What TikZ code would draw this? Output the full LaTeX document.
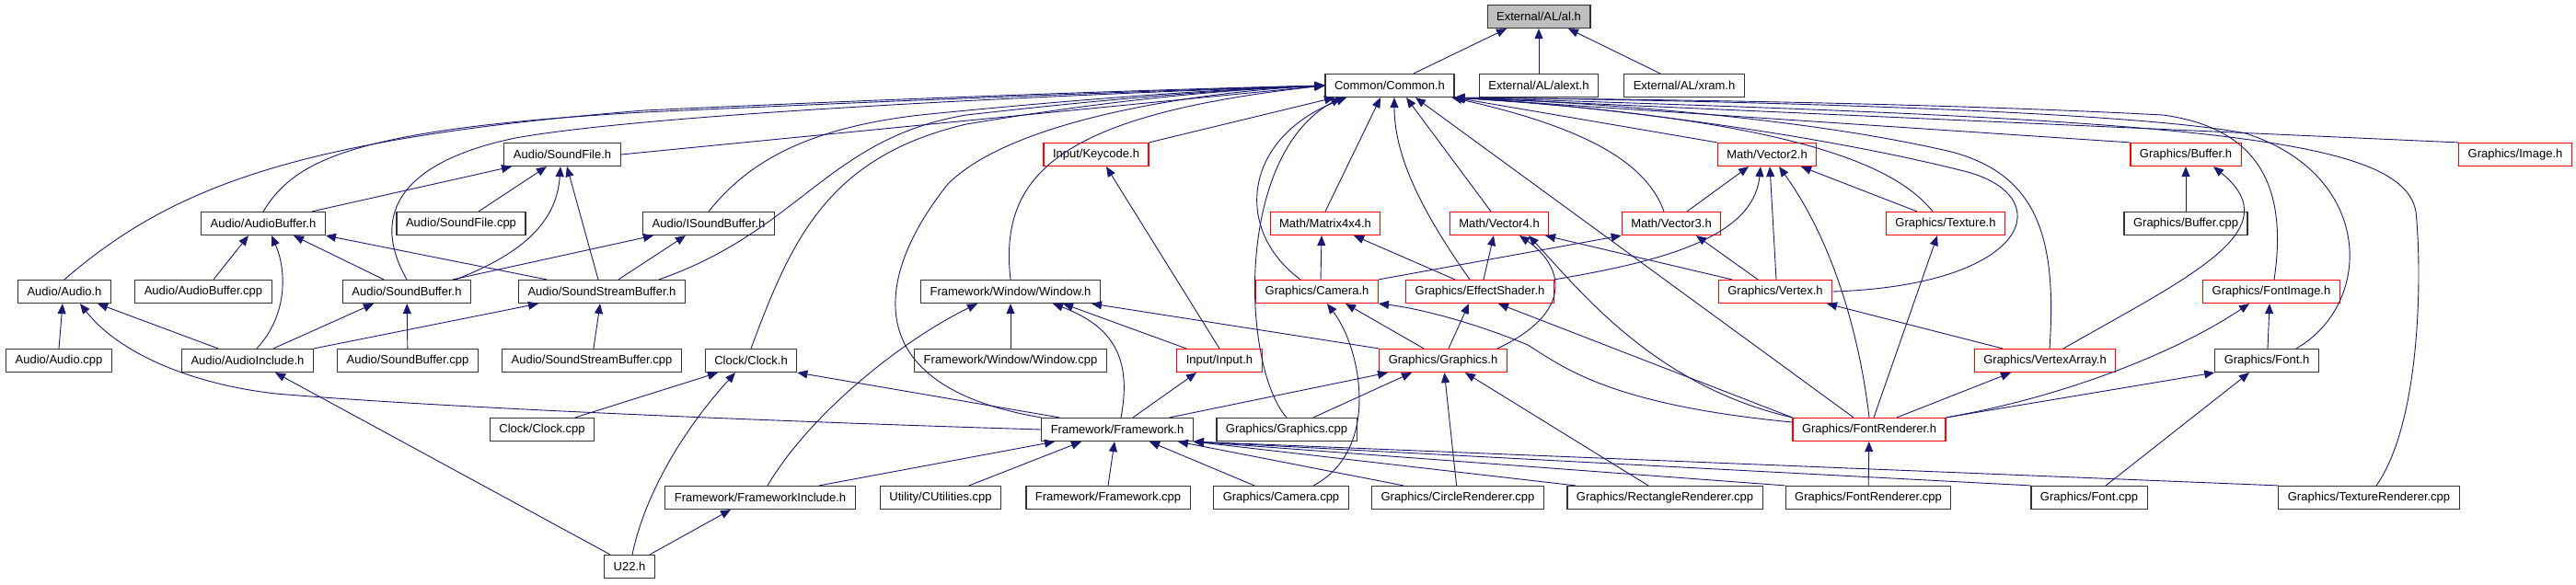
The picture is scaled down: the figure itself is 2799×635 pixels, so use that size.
\documentclass[tikz,border=0pt]{standalone}
\usepackage{fontspec}
\setmainfont{Liberation Sans}
\usepackage{tikz}
\usetikzlibrary{arrows.meta}
\usepackage{xcolor}
\definecolor{edgeblue}{HTML}{191970}
\definecolor{rootgray}{HTML}{BFBFBF}

\begin{document}
\begin{tikzpicture}[
  x=1pt, y=1pt,
  >={Triangle[length=11pt,width=9pt]},
  every node/.style={font=\fontsize{13}{15}\selectfont},
  filebox/.style={draw=black!80, line width=1.2pt, fill=white, minimum height=25pt, inner xsep=10pt, inner ysep=2pt},
  truncbox/.style={filebox, draw=red},
  rootbox/.style={filebox, fill=rootgray},
  inc/.style={->, draw=edgeblue, line width=0.9pt}
]

% Parameters (rows, from the top)
\def\yA{-18}
\def\yB{-93}
\def\yC{-168}
\def\yD{-243}
\def\yE{-317}
\def\yF{-392}
\def\yG{-467}
\def\yH{-541}
\def\yI{-616}

% --- Page ---
\fill[white] (0,0) rectangle (2799,-635);
\useasboundingbox (0,0) rectangle (2799,-635);

% --- Files ---
\node[rootbox]  (al)          at (1672,\yA) {External/AL/al.h};

\node[filebox]  (common)      at (1510,\yB) {Common/Common.h};
\node[filebox]  (alext)       at (1672,\yB) {External/AL/alext.h};
\node[filebox]  (xram)        at (1830,\yB) {External/AL/xram.h};

\node[filebox]  (soundfile)   at (611,\yC)  {Audio/SoundFile.h};
\node[truncbox] (keycode)     at (1191,\yC) {Input/Keycode.h};
\node[truncbox] (vectwo)      at (1920,\yC) {Math/Vector2.h};
\node[truncbox] (bufferh)     at (2375,\yC) {Graphics/Buffer.h};
\node[truncbox] (image)       at (2733,\yC) {Graphics/Image.h};

\node[filebox]  (audiobuf)    at (286,\yD)  {Audio/AudioBuffer.h};
\node[filebox]  (soundfilecpp) at (501,\yD) {Audio/SoundFile.cpp};
\node[filebox]  (isoundbuf)   at (770,\yD)  {Audio/ISoundBuffer.h};
\node[truncbox] (matrix)      at (1440,\yD) {Math/Matrix4x4.h};
\node[truncbox] (vecfour)     at (1629,\yD) {Math/Vector4.h};
\node[truncbox] (vecthree)    at (1816,\yD) {Math/Vector3.h};
\node[truncbox] (texture)     at (2114,\yD) {Graphics/Texture.h};
\node[filebox]  (buffercpp)   at (2375,\yD) {Graphics/Buffer.cpp};

\node[filebox]  (audio)       at (70,\yE)   {Audio/Audio.h};
\node[filebox]  (audiobufcpp) at (221,\yE)  {Audio/AudioBuffer.cpp};
\node[filebox]  (soundbuf)    at (442,\yE)  {Audio/SoundBuffer.h};
\node[filebox]  (streambuf)   at (654,\yE)  {Audio/SoundStreamBuffer.h};
\node[filebox]  (window)      at (1098,\yE) {Framework/Window/Window.h};
\node[truncbox] (camera)      at (1431,\yE) {Graphics/Camera.h};
\node[truncbox] (effect)      at (1608,\yE) {Graphics/EffectShader.h};
\node[truncbox] (vertex)      at (1929,\yE) {Graphics/Vertex.h};
\node[truncbox] (fontimage)   at (2468,\yE) {Graphics/FontImage.h};

\node[filebox]  (audiocpp)    at (64,\yF)   {Audio/Audio.cpp};
\node[filebox]  (audioinc)    at (269,\yF)  {Audio/AudioInclude.h};
\node[filebox]  (soundbufcpp) at (443,\yF)  {Audio/SoundBuffer.cpp};
\node[filebox]  (streambufcpp) at (643,\yF) {Audio/SoundStreamBuffer.cpp};
\node[filebox]  (clock)       at (816,\yF)  {Clock/Clock.h};
\node[filebox]  (windowcpp)   at (1098,\yF) {Framework/Window/Window.cpp};
\node[truncbox] (input)       at (1325,\yF) {Input/Input.h};
\node[truncbox] (graphics)    at (1568,\yF) {Graphics/Graphics.h};
\node[truncbox] (vertexarray) at (2222,\yF) {Graphics/VertexArray.h};
\node[filebox]  (font)        at (2463,\yF) {Graphics/Font.h};

\node[filebox]  (clockcpp)    at (589,\yG)  {Clock/Clock.cpp};
\node[filebox]  (framework)   at (1214,\yG) {Framework/Framework.h};
\node[filebox]  (graphicscpp) at (1398,\yG) {Graphics/Graphics.cpp};
\node[truncbox] (fontrend)    at (2031,\yG) {Graphics/FontRenderer.h};

\node[filebox]  (fwinclude)   at (826,\yH)  {Framework/FrameworkInclude.h};
\node[filebox]  (cutil)       at (1022,\yH) {Utility/CUtilities.cpp};
\node[filebox]  (frameworkcpp) at (1204,\yH) {Framework/Framework.cpp};
\node[filebox]  (cameracpp)   at (1392,\yH) {Graphics/Camera.cpp};
\node[filebox]  (circle)      at (1584,\yH) {Graphics/CircleRenderer.cpp};
\node[filebox]  (rect)        at (1809,\yH) {Graphics/RectangleRenderer.cpp};
\node[filebox]  (fontrendcpp) at (2030,\yH) {Graphics/FontRenderer.cpp};
\node[filebox]  (fontcpp)     at (2270,\yH) {Graphics/Font.cpp};
\node[filebox]  (texrend)     at (2574,\yH) {Graphics/TextureRenderer.cpp};

\node[filebox]  (utwentytwo)  at (684,\yI)  {U22.h};

% --- al.h ---
\draw[inc] ([xshift=26pt]common.north) -- ([xshift=-35pt]al.south);
\draw[inc] (alext) -- (al);
\draw[inc] ([xshift=-26pt]xram.north) -- ([xshift=32pt]al.south);

% --- Common.h, from the left ---
\draw[inc] (audio.north) .. controls (190,-200) and (330,-150) .. (700,-120) .. controls (1000,-106) and (1300,-96) .. (common.west);
\draw[inc] (audiobuf.north) .. controls (320,-175) and (380,-140) .. (700,-122) .. controls (1000,-108) and (1300,-97) .. (common.west);
\draw[inc] (soundfile.east) -- (common.west);
\draw[inc] (soundbuf.north) .. controls (400,-230) and (440,-175) .. (560,-150) .. controls (700,-125) and (1100,-105) .. (common.west);
\draw[inc] (isoundbuf.north) .. controls (810,-180) and (870,-140) .. (1000,-125) .. controls (1150,-110) and (1300,-98) .. (common.west);
\draw[inc] ([xshift=62pt]streambuf.north) .. controls (870,-250) and (900,-150) .. (1050,-125) .. controls (1200,-108) and (1320,-98) .. (common.west);
\draw[inc] (clock.north) .. controls (860,-260) and (900,-170) .. (1050,-135) .. controls (1200,-110) and (1320,-98) .. (common.west);
\draw[inc] (framework.north west) .. controls (930,-420) and (950,-300) .. (1030,-200) .. controls (1100,-130) and (1300,-100) .. (common.west);
\draw[inc] (window.north) .. controls (1085,-190) and (1150,-125) .. (common.west);

% --- Common.h, from below ---
\draw[inc] (keycode.north east) -- ([xshift=-60pt]common.south);
\draw[inc] ([xshift=-18pt]camera.north) .. controls (1340,-250) and (1350,-150) .. ([xshift=-47pt]common.south);
\draw[inc] (graphicscpp.north) .. controls (1350,-400) and (1340,-170) .. ([xshift=-53pt]common.south);
\draw[inc] (matrix.north) -- ([xshift=-10pt]common.south);
\draw[inc] ([xshift=-11pt]effect.north) .. controls (1545,-230) and (1515,-170) .. ([xshift=5pt]common.south);
\draw[inc] ([xshift=-9pt]vecfour.north) -- ([xshift=18pt]common.south);
\draw[inc] ([xshift=-17pt]fontrend.north) -- ([xshift=28pt]common.south);

% --- Common.h, from the right ---
\draw[inc] ([xshift=-8pt]vecthree.north) .. controls (1790,-180) and (1730,-140) .. ([xshift=-3pt]common.south east);
\draw[inc] (vectwo.north west) -- (common.south east);
\draw[inc] ([xshift=-14pt]texture.north) .. controls (2060,-180) and (1950,-130) .. (common.south east);
\draw[inc] (vertex.east) .. controls (2210,-310) and (2240,-210) .. (2130,-185) .. controls (1950,-140) and (1700,-112) .. (common.south east);
\draw[inc] ([xshift=5pt]vertexarray.north) .. controls (2235,-260) and (2215,-190) .. (2120,-165) .. controls (1950,-125) and (1700,-110) .. (common.south east);
\draw[inc] (bufferh.north west) -- (common.south east);
\draw[inc] ([xshift=3pt]fontimage.north) .. controls (2485,-210) and (2460,-140) .. (2350,-125) .. controls (2100,-112) and (1800,-108) .. (common.south east);
\draw[inc] ([xshift=32pt]font.north) .. controls (2580,-330) and (2580,-190) .. (2440,-145) .. controls (2300,-118) and (1800,-108) .. (common.south east);
\draw[inc] ([xshift=8pt]texrend.north) .. controls (2630,-460) and (2632,-300) .. (2625,-230) .. controls (2610,-150) and (2400,-130) .. (common.south east);
\draw[inc] (image.north west) -- (common.south east);

% --- Audio ---
\draw[inc] ([xshift=53pt]audiobuf.north) -- ([xshift=-55pt]soundfile.south);
\draw[inc] ([xshift=19pt]soundfilecpp.north) -- ([xshift=-17pt]soundfile.south);
\draw[inc] ([xshift=53pt]soundbuf.north) .. controls (570,-275) and (605,-240) .. ([xshift=-2pt]soundfile.south);
\draw[inc] ([xshift=-4pt]streambuf.north) -- ([xshift=5pt]soundfile.south);

\draw[inc] ([xshift=11pt]audiobufcpp.north) -- ([xshift=-16pt]audiobuf.south);
\draw[inc] ([xshift=10pt]audioinc.north) .. controls (315,-340) and (310,-290) .. ([xshift=9pt]audiobuf.south);
\draw[inc] ([xshift=-25pt]soundbuf.north) -- ([xshift=33pt]audiobuf.south);
\draw[inc] ([xshift=-60pt]streambuf.north) -- (audiobuf.south east);

\draw[inc] ([xshift=50pt]soundbuf.north) -- ([xshift=-60pt]isoundbuf.south);
\draw[inc] ([xshift=18pt]streambuf.north) -- ([xshift=-25pt]isoundbuf.south);

\draw[inc] (audiocpp.north) -- ([xshift=-2pt]audio.south);
\draw[inc] ([xshift=-32pt]audioinc.north) -- ([xshift=-15pt]audio.south east);
\draw[inc] (framework.west) .. controls (900,-460) and (500,-445) .. (300,-428) .. controls (210,-418) and (130,-385) .. ([xshift=17pt]audio.south);

\draw[inc] ([xshift=28pt]audioinc.north) -- ([xshift=-36pt]soundbuf.south);
\draw[inc] (soundbufcpp) -- (soundbuf);
\draw[inc] (audioinc.north east) -- ([xshift=-69pt]streambuf.south);
\draw[inc] (streambufcpp) -- (streambuf);

\draw[inc] ([xshift=-21pt]utwentytwo.north) -- ([xshift=30pt]audioinc.south);

% --- Clock, Window, Input ---
\draw[inc] ([xshift=36pt]clockcpp.north) -- ([xshift=-36pt]clock.south);
\draw[inc] ([xshift=3pt]utwentytwo.north) .. controls (700,-540) and (740,-470) .. ([xshift=-17pt]clock.south);
\draw[inc] ([xshift=-63pt]framework.north) -- (clock.south east);

\draw[inc] (windowcpp) -- (window);
\draw[inc] ([xshift=4pt]framework.north) .. controls (1230,-390) and (1210,-355) .. ([xshift=46pt]window.south);
\draw[inc] ([xshift=8pt]fwinclude.north) .. controls (880,-450) and (980,-370) .. ([xshift=-36pt]window.south);
\draw[inc] ([xshift=-36pt]input.north) -- ([xshift=57pt]window.south);
\draw[inc] (graphics.north west) -- ([xshift=-10pt]window.south east);

\draw[inc] (input.north) -- ([xshift=11pt]keycode.south);
\draw[inc] ([xshift=17pt]framework.north) -- ([xshift=-25pt]input.south);

% --- Framework ---
\draw[inc] ([xshift=57pt]framework.north) -- ([xshift=-60pt]graphics.south);
\draw[inc] ([xshift=64pt]fwinclude.north) -- ([xshift=-68pt]framework.south);
\draw[inc] ([xshift=31pt]cutil.north) -- ([xshift=-39pt]framework.south);
\draw[inc] (frameworkcpp.north) -- ([xshift=-3pt]framework.south);
\draw[inc] ([xshift=-29pt]cameracpp.north) -- ([xshift=35pt]framework.south);
\draw[inc] ([xshift=-59pt]circle.north) -- ([xshift=66pt]framework.south);
\draw[inc] ([xshift=-97pt]rect.north) -- (framework.south east);
\draw[inc] (fontrendcpp.north west) -- (framework.south east);
\draw[inc] (fontcpp.north west) -- (framework.south east);
\draw[inc] (texrend.north west) -- (framework.south east);
\draw[inc] ([xshift=22pt]utwentytwo.north) -- ([xshift=-32pt]fwinclude.south);

% --- Math ---
\draw[inc] ([xshift=17pt]vecthree.north) -- ([xshift=-20pt]vectwo.south);
\draw[inc] (effect.north east) .. controls (1800,-285) and (1905,-260) .. ([xshift=-7pt]vectwo.south);
\draw[inc] ([xshift=1pt]vertex.north) -- ([xshift=3pt]vectwo.south);
\draw[inc] (fontrend.north) .. controls (2020,-360) and (1990,-260) .. ([xshift=13pt]vectwo.south);
\draw[inc] ([xshift=-31pt]texture.north) -- ([xshift=37pt]vectwo.south);

\draw[inc] ([xshift=4pt]camera.north) -- ([xshift=-4pt]matrix.south);
\draw[inc] ([xshift=-27pt]effect.north) -- ([xshift=31pt]matrix.south);

\draw[inc] ([xshift=4pt]effect.north) -- ([xshift=-6pt]vecfour.south);
\draw[inc] ([xshift=59pt]graphics.north) .. controls (1710,-340) and (1700,-290) .. ([xshift=22pt]vecfour.south);
\draw[inc] (fontrend.north west) .. controls (1800,-420) and (1720,-320) .. ([xshift=32pt]vecfour.south);
\draw[inc] ([xshift=-47pt]vertex.north) -- ([xshift=50pt]vecfour.south);

\draw[inc] (camera.north east) -- (vecthree.south west);
\draw[inc] ([xshift=-19pt]vertex.north) -- ([xshift=27pt]vecthree.south);

% --- Graphics ---
\draw[inc] ([xshift=5pt]fontrend.north) -- ([xshift=-9pt]texture.south);
\draw[inc] (buffercpp) -- (bufferh);
\draw[inc] ([xshift=20pt]vertexarray.north) .. controls (2380,-300) and (2490,-250) .. ([xshift=30pt]bufferh.south);

\draw[inc] ([xshift=-21pt]graphics.north) -- ([xshift=31pt]camera.south);
\draw[inc] ([xshift=35pt]cameracpp.north) .. controls (1500,-490) and (1480,-380) .. ([xshift=11pt]camera.south);
\draw[inc] ([yshift=8pt]fontrend.west) .. controls (1750,-440) and (1700,-400) .. (1660,-375) .. controls (1600,-350) and (1540,-335) .. (camera.south east);

\draw[inc] ([xshift=6pt]graphics.north) -- ([xshift=-12pt]effect.south);
\draw[inc] (fontrend.north west) -- ([xshift=20pt]effect.south);
\draw[inc] ([xshift=-46pt]vertexarray.north) -- ([xshift=56pt]vertex.south);

\draw[inc] ([xshift=29pt]graphicscpp.north) -- ([xshift=-34pt]graphics.south);
\draw[inc] (circle) -- (graphics);
\draw[inc] ([xshift=-18pt]rect.north) -- ([xshift=24pt]graphics.south);

\draw[inc] ([xshift=30pt]fontrend.north) -- ([xshift=-37pt]vertexarray.south);
\draw[inc] (fontrend.north east) .. controls (2250,-430) and (2370,-380) .. ([xshift=-24pt]fontimage.south);
\draw[inc] ([xshift=1pt]font.north) -- ([xshift=-2pt]fontimage.south);
\draw[inc] (fontrend.north east) -- (font.south west);
\draw[inc] ([xshift=18pt]fontcpp.north) -- ([xshift=-19pt]font.south);
\draw[inc] (fontrendcpp) -- (fontrend);

\end{tikzpicture}
\end{document}
